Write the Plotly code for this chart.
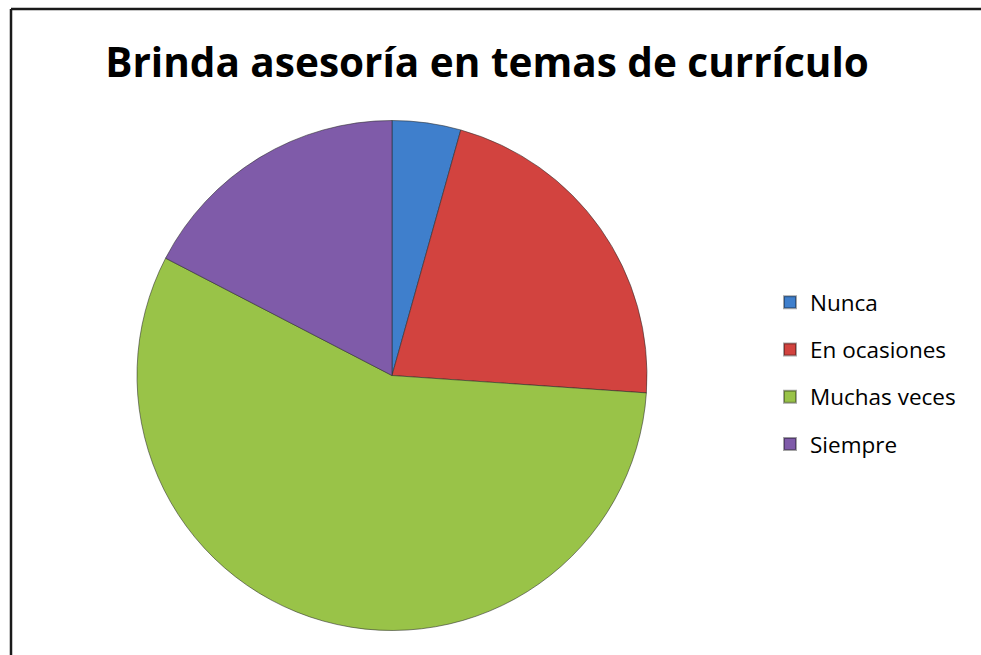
import plotly.graph_objects as go

categories = ["Nunca", "En ocasiones", "Muchas veces", "Siempre"]
values = [1, 5, 13, 4]
colors = ["#3F7FCC", "#D2433F", "#99C348", "#7F5BA9"]
title_text = "Brinda asesoría en temas de currículo"

W, H = 981, 655
cx, cy, r = 392, 375.5, 255

fig = go.Figure()
fig.add_trace(go.Pie(
    labels=categories, values=values, sort=False, direction="clockwise",
    rotation=0, textinfo="none", hoverinfo="label+value+percent",
    marker=dict(colors=colors, line=dict(color="rgba(40,40,40,0.55)", width=1)),
    domain=dict(x=[(cx - r) / W, (cx + r) / W], y=[1 - (cy + r) / H, 1 - (cy - r) / H]),
    showlegend=False,
))

# legend entries (one group per category so spacing can match)
for i, (c, col) in enumerate(zip(categories, colors)):
    fig.add_trace(go.Scatter(
        x=[None], y=[None], mode="markers", name=c, legendgroup=c,
        marker=dict(symbol="square", size=15, color=col,
                    line=dict(color="rgba(0,0,0,0.35)", width=1)),
        showlegend=True,
    ))

border = dict(color="#1a1a1a", width=2.5)
fig.update_layout(
    width=W, height=H,
    margin=dict(l=0, r=0, t=0, b=0),
    paper_bgcolor="white", plot_bgcolor="white",
    title=dict(text="<b>" + title_text + "</b>", x=487 / W, xanchor="center",
               y=1 - 63 / H, yanchor="middle",
               font=dict(family="Open Sans, sans-serif", size=40.5, color="black")),
    xaxis=dict(visible=False), yaxis=dict(visible=False),
    legend=dict(x=770 / W, xanchor="left", y=1 - 281 / H, yanchor="top",
                font=dict(family="Open Sans, sans-serif", size=22.5, color="black"),
                tracegroupgap=15, itemsizing="constant", bgcolor="rgba(0,0,0,0)"),
    shapes=[
        dict(type="line", xref="paper", yref="paper",
             x0=11 / W, y0=1 - 9 / H, x1=1.0, y1=1 - 9 / H, line=border),
        dict(type="line", xref="paper", yref="paper",
             x0=11 / W, y0=1 - 9 / H, x1=11 / W, y1=0.0, line=border),
    ],
)

fig.write_html("out.html", config={"displayModeBar": False},
               post_script="document.body.style.margin='0';document.body.style.overflow='hidden';")
